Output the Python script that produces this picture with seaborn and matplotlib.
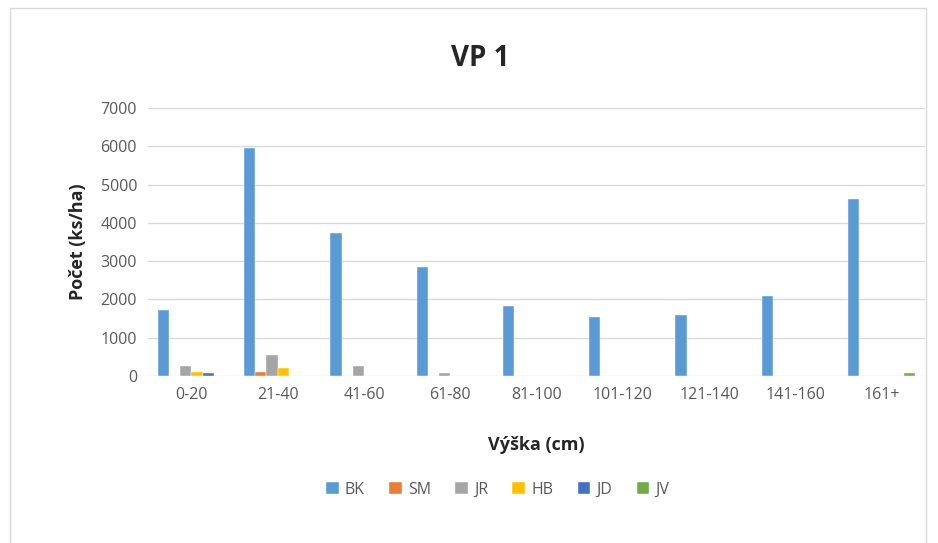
import pandas as pd
import matplotlib.pyplot as plt
import seaborn as sns
from matplotlib.patches import Rectangle

# data
vysky = ['0-20', '21-40', '41-60', '61-80', '81-100', '101-120', '121-140', '141-160', '161+']
druhy = ['BK', 'SM', 'JR', 'HB', 'JD', 'JV']
bk = [1730, 5960, 3730, 2850, 1830, 1540, 1600, 2090, 4610]
sm = [0, 100, 0, 0, 0, 0, 0, 0, 0]
jr = [260, 550, 260, 90, 0, 0, 0, 0, 0]
hb = [100, 220, 0, 0, 0, 0, 0, 0, 0]
jd = [70, 0, 0, 0, 0, 0, 0, 0, 0]
jv = [0, 0, 0, 0, 0, 0, 0, 0, 80]
barvy = ['#5b9bd5', '#ed7d31', '#a5a5a5', '#ffc000', '#4472c4', '#70ad47']

# %%
rows = []
for druh, vals in zip(druhy, [bk, sm, jr, hb, jd, jv]):
    for v, val in zip(vysky, vals):
        rows.append({'Výška': v, 'Počet': val, 'Druh': druh})
df = pd.DataFrame(rows)

sns.set_style('white')
plt.rcParams['font.family'] = ['Open Sans', 'DejaVu Sans']

fig = plt.figure(figsize=(9.38, 5.43), dpi=100)
ax = fig.add_axes([0.158, 0.3076, 0.828, 0.4935])

sns.barplot(data=df, x='Výška', y='Počet', hue='Druh', order=vysky, hue_order=druhy,
            palette=barvy, saturation=1, width=0.78, edgecolor='white', linewidth=0.3, ax=ax)

ax.set_ylim(0, 7000)
ax.set_yticks(range(0, 7001, 1000))
ax.yaxis.grid(True, color='#d9d9d9', linewidth=1)
ax.set_axisbelow(True)
sns.despine(ax=ax, left=True, top=True, right=True, bottom=True)
ax.tick_params(axis='both', length=0, labelsize=11.5, labelcolor='#595959', pad=8)
ax.set_xlim(-0.5, len(vysky) - 0.5)

ax.set_xlabel('Výška (cm)', fontsize=13, fontweight='bold', color='#262626', labelpad=24)
ax.set_ylabel('Počet (ks/ha)', fontsize=13, fontweight='bold', color='#262626', labelpad=10)
fig.text(480 / 938, 1 - 58 / 543, 'VP 1', fontsize=20, fontweight='bold', color='#262626',
         ha='center', va='center')

ax.legend(loc='center', bbox_to_anchor=(0.45, -0.425), ncol=6, frameon=False,
          fontsize=11.5, handlelength=0.8, handleheight=0.8, columnspacing=1.5,
          handletextpad=0.4, labelcolor='#595959')

fig.patches.append(Rectangle((10 / 938, -0.01), 916 / 938, 1 - 8 / 543 + 0.01,
                             transform=fig.transFigure, fill=False,
                             edgecolor='#d9d9d9', linewidth=1))

fig.savefig('out.png', dpi=100)
